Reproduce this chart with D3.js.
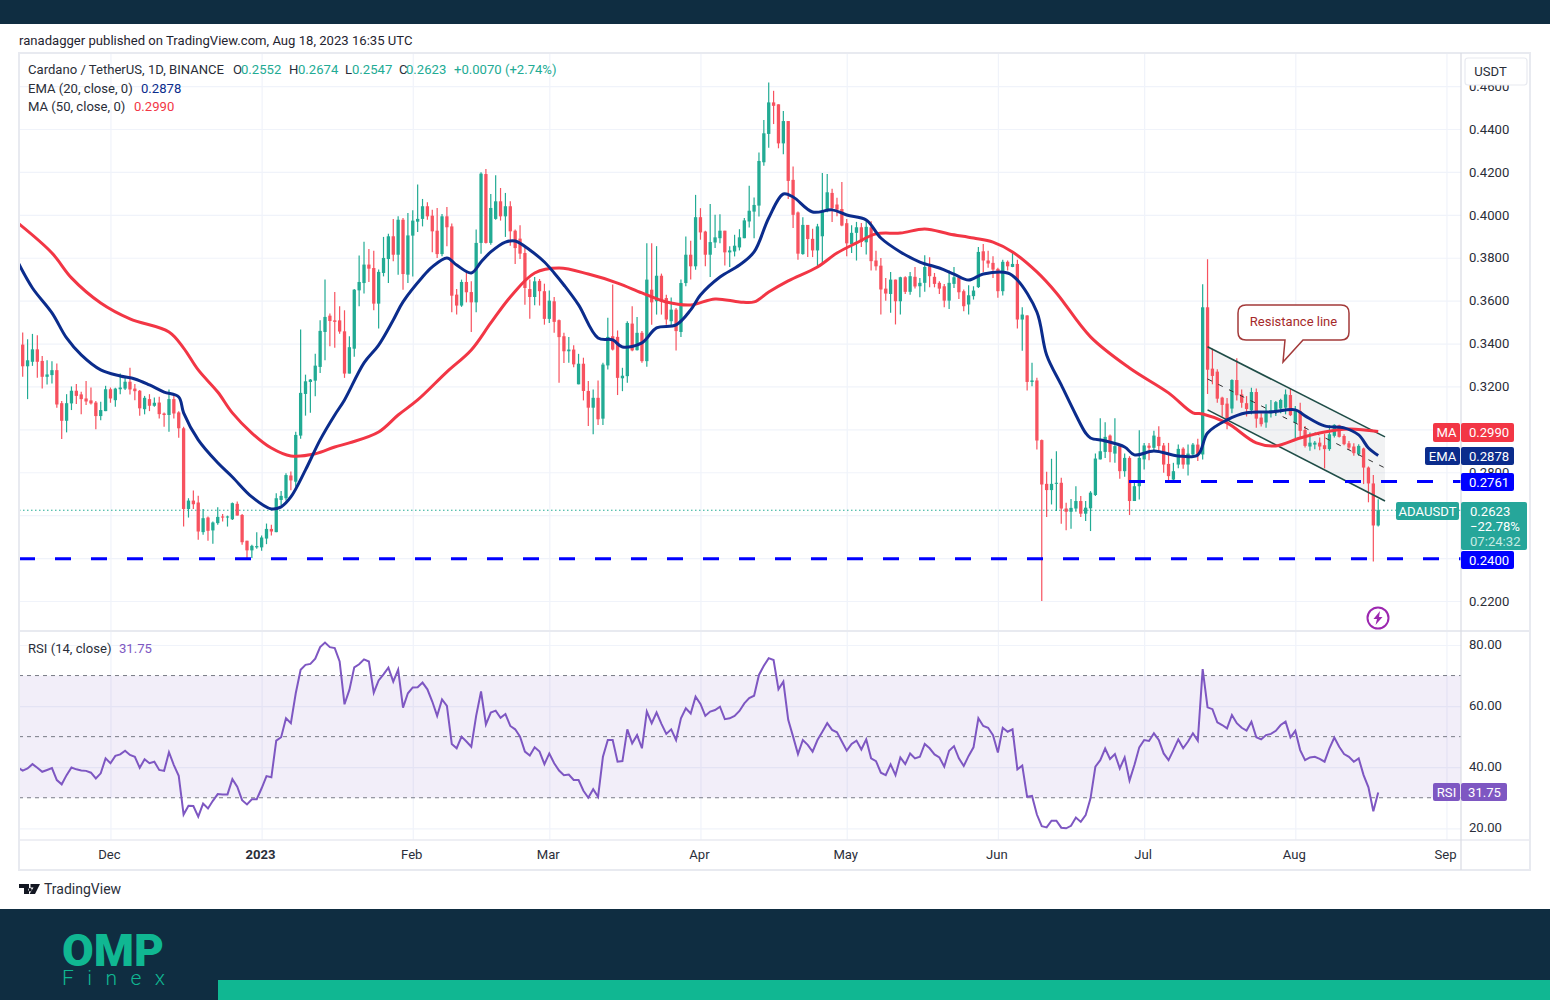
<!DOCTYPE html>
<html><head><meta charset="utf-8">
<style>html,body{margin:0;padding:0;background:#fff}svg{display:block}text{font-family:Roboto,sans-serif}</style>
<script src="https://cdn.jsdelivr.net/npm/d3@7/dist/d3.min.js"></script>
</head><body><svg id="c" width="1550" height="1000"></svg>
<script>
const opens=[.3395,.3294,.3315,.3373,.3319,.3245,.3253,.3276,.3122,.3040,
.3121,.3180,.3163,.3144,.3135,.3125,.3062,.3085,.3187,.3136,
.3187,.3190,.3222,.3190,.3180,.3094,.3141,.3110,.3125,.3074,
.3067,.3141,.3079,.3005,.2629,.2668,.2659,.2521,.2589,.2529,
.2563,.2594,.2589,.2581,.2653,.2601,.2481,.2436,.2450,.2450,
.2491,.2536,.2521,.2671,.2679,.2785,.2756,.2971,.3165,.3221,
.3227,.3291,.3454,.3530,.3508,.3508,.3457,.3260,.3376,.3648,
.3682,.3768,.3752,.3586,.3729,.3794,.3900,.3814,.3977,.3721,
.3903,.3968,.3981,.4040,.3996,.3926,.3817,.3993,.3946,.3628,
.3577,.3687,.3640,.3592,.3869,.4190,.3869,.3981,.4063,.3993,
.4040,.3926,.3889,.3822,.3654,.3617,.3692,.3644,.3515,.3597,
.3509,.3434,.3364,.3372,.3210,.3306,.3179,.3101,.3147,.3050,
.3298,.3434,.3431,.3238,.3248,.3493,.3369,.3450,.3318,.3651,
.3597,.3716,.3612,.3504,.3558,.3454,.3682,.3814,.3760,.3989,
.3922,.3814,.3871,.3891,.3926,.3825,.3829,.3848,.3891,.3969,
.4015,.4043,.4245,.4377,.4524,.4515,.4333,.4437,.4163,.4011,
.3817,.3953,.3888,.3834,.3900,.4017,.4102,.4048,.4027,.3961,
.3864,.3916,.3942,.3872,.3942,.3787,.3763,.3656,.3631,.3698,
.3597,.3709,.3641,.3711,.3667,.3683,.3760,.3711,.3683,.3667,
.3600,.3678,.3709,.3644,.3582,.3621,.3663,.3830,.3787,.3776,
.3748,.3644,.3781,.3757,.3771,.3512,.3531,.3221,.3228,.2950,
.2746,.2717,.2746,.2751,.2631,.2616,.2631,.2666,.2607,.2632,
.2694,.2860,.2895,.2971,.2887,.2922,.2805,.2867,.2666,.2735,
.2860,.2924,.2914,.2965,.2925,.2839,.2766,.2836,.2910,.2836,
.2883,.2929,.2883,.3569,.3283,.3269,.3148,.3120,.3097,.3230,
.3163,.3122,.3089,.3174,.3055,.3032,.3075,.3090,.3097,.3101,
.3160,.3030,.3086,.2997,.2920,.2929,.2938,.2926,.2908,.2970,
.3019,.2969,.2935,.2920,.2884,.2911,.2822,.2748,.2552];
const highs=[.3451,.3420,.3445,.3439,.3342,.3322,.3318,.3307,.3132,.3164,
.3200,.3211,.3175,.3226,.3195,.3132,.3129,.3203,.3195,.3194,
.3260,.3245,.3287,.3211,.3183,.3156,.3164,.3149,.3152,.3079,
.3186,.3156,.3085,.3012,.2679,.2715,.2691,.2629,.2594,.2571,
.2637,.2605,.2598,.2659,.2664,.2605,.2481,.2462,.2521,.2505,
.2561,.2555,.2702,.2713,.2795,.2804,.2989,.3465,.3255,.3235,
.3352,.3508,.3698,.3540,.3640,.3574,.3555,.3434,.3654,.3810,
.3875,.3841,.3833,.3745,.3897,.3912,.3981,.3993,.3985,.4009,
.4021,.4141,.4074,.4058,.4024,.4032,.4004,.4036,.3959,.3654,
.3698,.3737,.3690,.3931,.4198,.4213,.4097,.4184,.4125,.4102,
.4063,.3931,.3951,.3845,.3698,.3710,.3701,.3679,.3647,.3617,
.3512,.3450,.3431,.3392,.3352,.3334,.3225,.3186,.3228,.3310,
.3520,.3675,.3461,.3287,.3504,.3574,.3524,.3458,.3868,.3868,
.3854,.3726,.3628,.3615,.3566,.3698,.3899,.3879,.4093,.4031,
.3926,.4051,.4000,.4003,.3926,.3853,.3907,.3933,.3985,.4135,
.4081,.4290,.4442,.4617,.4578,.4515,.4484,.4437,.4225,.4016,
.3989,.3953,.3935,.3958,.4195,.4190,.4122,.4079,.4153,.3981,
.3951,.3967,.3962,.3978,.3970,.3833,.3799,.3706,.3734,.3698,
.3711,.3714,.3734,.3757,.3706,.3812,.3802,.3729,.3690,.3678,
.3740,.3757,.3714,.3652,.3672,.3667,.3850,.3864,.3833,.3807,
.3753,.3791,.3787,.3822,.3791,.3569,.3532,.3310,.3240,.2953,
.2802,.2863,.2898,.2774,.2658,.2676,.2735,.2689,.2666,.2712,
.2887,.3052,.3033,.2976,.3052,.2926,.2887,.2875,.2759,.2996,
.2937,.2937,.2994,.3014,.2937,.2937,.2844,.2929,.2917,.2929,
.2937,.2956,.3676,.3793,.3376,.3280,.3152,.3146,.3233,.3331,
.3186,.3155,.3194,.3190,.3075,.3117,.3137,.3132,.3143,.3186,
.3190,.3109,.3124,.3016,.2985,.2946,.2962,.2980,.3019,.3024,
.3021,.2977,.2946,.2935,.2931,.2915,.2827,.2787,.2674];
const lows=[.3245,.3141,.3296,.3240,.3191,.3209,.3214,.3101,.2955,.2986,
.3090,.3118,.3070,.3113,.3116,.3000,.3043,.3085,.3124,.3105,
.3164,.3183,.3163,.3136,.3063,.3070,.3085,.3105,.3051,.3012,
.2989,.3051,.2961,.2547,.2589,.2629,.2485,.2509,.2481,.2467,
.2555,.2571,.2547,.2578,.2598,.2462,.2397,.2400,.2443,.2434,
.2465,.2505,.2521,.2648,.2668,.2716,.2733,.2956,.3064,.3077,
.3154,.3263,.3322,.3387,.3380,.3446,.3240,.3260,.3338,.3574,
.3633,.3687,.3555,.3470,.3713,.3682,.3783,.3721,.3651,.3682,
.3713,.3920,.3946,.3977,.3825,.3799,.3807,.3853,.3546,.3535,
.3571,.3592,.3454,.3546,.3819,.3866,.3861,.3977,.3973,.3897,
.3856,.3771,.3794,.3581,.3515,.3578,.3577,.3488,.3496,.3450,
.3217,.3309,.3310,.3290,.3210,.3135,.3016,.2977,.3020,.3020,
.3279,.3368,.3160,.3178,.3217,.3364,.3368,.3310,.3292,.3488,
.3535,.3535,.3488,.3485,.3368,.3430,.3667,.3698,.3744,.3884,
.3760,.3710,.3845,.3868,.3764,.3757,.3806,.3834,.3891,.3941,
.3891,.3992,.4229,.4313,.4423,.4310,.4282,.4074,.3938,.3791,
.3814,.3803,.3803,.3760,.3771,.4012,.3967,.3993,.3947,.3807,
.3822,.3787,.3850,.3815,.3740,.3740,.3535,.3600,.3543,.3489,
.3535,.3631,.3628,.3656,.3616,.3641,.3662,.3662,.3631,.3569,
.3561,.3659,.3608,.3551,.3535,.3605,.3659,.3734,.3753,.3706,
.3613,.3624,.3740,.3756,.3470,.3367,.3181,.3201,.2906,.2200,
.2591,.2650,.2619,.2560,.2530,.2537,.2616,.2591,.2573,.2526,
.2689,.2860,.2867,.2847,.2844,.2770,.2779,.2601,.2666,.2673,
.2813,.2856,.2898,.2890,.2798,.2763,.2759,.2819,.2816,.2785,
.2875,.2852,.2859,.3165,.3210,.3124,.3059,.3000,.3075,.3135,
.3101,.3060,.3070,.3008,.3013,.3008,.3055,.3062,.3075,.3070,
.3062,.2960,.2959,.2915,.2900,.2907,.2903,.2818,.2900,.2962,
.2962,.2926,.2904,.2877,.2877,.2745,.2660,.2384,.2547];
const closes=[.3294,.3322,.3373,.3315,.3245,.3256,.3276,.3116,.3040,.3122,
.3180,.3156,.3141,.3130,.3121,.3062,.3090,.3187,.3144,.3190,
.3195,.3222,.3186,.3178,.3098,.3147,.3110,.3124,.3071,.3067,
.3141,.3074,.3005,.2629,.2668,.2651,.2524,.2586,.2527,.2566,
.2592,.2589,.2594,.2656,.2598,.2474,.2436,.2457,.2456,.2496,
.2536,.2524,.2679,.2690,.2787,.2762,.2974,.3170,.3224,.3232,
.3297,.3459,.3524,.3505,.3501,.3456,.3260,.3383,.3651,.3687,
.3768,.3749,.3586,.3734,.3799,.3900,.3814,.3977,.3724,.3904,
.3973,.3981,.4040,.3993,.3923,.3817,.3993,.3942,.3623,.3577,
.3687,.3639,.3592,.3869,.4192,.3869,.4032,.4063,.3993,.4040,
.3923,.3845,.3819,.3659,.3617,.3690,.3644,.3515,.3600,.3501,
.3430,.3364,.3372,.3303,.3306,.3179,.3101,.3147,.3047,.3302,
.3431,.3372,.3240,.3250,.3496,.3368,.3450,.3318,.3698,.3592,
.3716,.3594,.3512,.3558,.3458,.3682,.3814,.3760,.3989,.3918,
.3814,.3873,.3895,.3926,.3825,.3834,.3856,.3895,.3974,.4019,
.4046,.4251,.4380,.4524,.4508,.4333,.4437,.4158,.4000,.3819,
.3953,.3887,.3834,.3946,.4017,.4105,.4032,.4024,.3950,.3867,
.3916,.3942,.3874,.3944,.3784,.3760,.3652,.3633,.3698,.3597,
.3709,.3641,.3714,.3666,.3683,.3757,.3714,.3678,.3656,.3600,
.3683,.3709,.3639,.3574,.3625,.3647,.3827,.3787,.3773,.3745,
.3644,.3781,.3760,.3771,.3512,.3535,.3221,.3228,.2948,.2743,
.2717,.2746,.2751,.2631,.2616,.2634,.2666,.2607,.2635,.2705,
.2864,.2898,.2965,.2894,.2922,.2805,.2867,.2666,.2735,.2867,
.2925,.2914,.2971,.2922,.2836,.2782,.2805,.2909,.2836,.2887,
.2929,.2883,.3569,.3278,.3249,.3143,.3114,.3047,.3230,.3159,
.3124,.3095,.3174,.3050,.3024,.3075,.3090,.3127,.3137,.3163,
.3066,.3085,.2993,.2923,.2938,.2938,.2920,.2908,.2977,.3021,
.2965,.2931,.2915,.2889,.2923,.2822,.2748,.2552,.2623];
const rsiValues=[39.9,38.9,39.6,41.0,39.8,38.5,39.1,39.7,35.8,34.4,37.4,
39.9,39.3,38.9,38.8,38.2,36.3,38.0,42.9,41.3,43.7,
44.2,45.4,44.0,43.4,39.8,42.6,41.3,41.8,39.1,38.8,
44.9,40.7,37.2,24.5,27.4,27.3,23.8,28.1,26.5,29.0,
31.2,31.1,31.1,36.1,33.6,29.2,27.8,29.5,29.5,33.1,
37.1,36.7,48.7,49.8,56.0,54.4,64.2,71.9,73.5,73.8,
75.5,79.3,80.8,79.3,79.0,74.6,60.6,65.3,72.7,73.7,
75.3,74.6,64.4,68.4,70.4,72.6,68.0,71.9,59.5,64.2,
66.1,66.2,67.7,65.5,61.5,56.8,62.2,60.1,47.6,46.2,
50.0,48.4,46.7,56.8,64.8,54.0,57.9,58.5,56.2,57.4,
53.5,52.4,50.0,45.1,43.8,46.5,45.1,41.0,44.5,41.3,
38.9,37.4,37.6,35.8,35.8,32.3,30.0,32.8,30.3,43.4,
48.9,48.9,41.8,42.0,52.4,47.8,50.5,46.2,58.2,54.4,
57.9,54.2,50.9,52.4,48.9,56.0,59.3,57.6,63.1,60.7,
56.8,58.2,58.7,59.8,55.7,56.0,56.8,58.4,60.9,62.6,
63.4,70.2,73.2,75.7,75.1,65.5,68.0,55.5,50.0,44.3,
48.9,47.3,45.1,48.9,51.6,54.4,52.2,51.4,48.4,45.4,
47.6,48.7,45.8,49.1,42.9,42.0,38.2,37.4,40.9,37.4,
43.2,41.0,44.5,42.9,43.4,47.6,46.2,44.2,43.2,40.2,
45.4,46.9,42.9,40.4,43.7,46.5,56.0,53.5,52.9,50.5,
44.8,52.9,51.6,52.4,39.3,40.5,30.3,30.6,24.5,20.7,
20.3,22.5,22.5,20.2,20.0,20.8,23.5,22.1,24.3,29.8,
40.2,42.3,46.1,42.7,44.3,39.6,43.2,35.6,40.7,46.5,
48.9,48.6,51.1,48.9,44.5,42.3,45.6,49.1,46.2,48.4,
51.1,48.7,72.1,59.6,59.0,54.7,53.8,52.7,57.1,54.4,
52.9,52.0,54.9,49.8,49.1,50.5,50.9,51.9,53.8,54.9,
49.8,51.9,45.6,42.3,43.2,43.4,42.7,41.8,46.2,49.7,
46.7,44.3,43.4,41.8,42.9,37.4,33.4,25.6,31.75];
const emaDays=[-1,2,6,9,12,16,20,23,26,29,32,33,36,40,43,47,51,53,55,58,61,64,66,70,73,76,78,82,84,87,89,92,94,96,99,101,104,107,109,111,114,118,121,123,127,130,134,137,139,143,147,150,153,156,158,162,166,169,173,176,180,184,188,191,194,197,202,204,208,210,213,216,218,219,222,226,228,232,237,241,243,247,251,256,261,263,267,271,274,276,278];
const emaValues=[.3780,.3659,.3543,.3426,.3347,.3277,.3249,.3235,.3207,.3174,.3151,.3077,.2951,.2844,.2778,.2685,.2629,.2639,.2685,.2811,.2951,.3067,.3137,.3310,.3393,.3510,.3594,.3710,.3757,.3799,.3766,.3729,.3780,.3827,.3873,.3878,.3836,.3780,.3729,.3673,.3580,.3426,.3417,.3384,.3403,.3473,.3487,.3557,.3626,.3710,.3766,.3827,.3985,.4097,.4083,.4013,.4023,.3999,.3976,.3892,.3827,.3780,.3752,.3724,.3696,.3724,.3729,.3696,.3547,.3347,.3207,.3067,.2983,.2960,.2946,.2918,.2881,.2899,.2876,.2881,.2983,.3044,.3077,.3081,.3091,.3063,.3016,.3007,.2974,.2913,.2878];
const maDays=[-1,6,10,16,22,30,33,36,40,43,47,51,55,60,64,67,73,77,81,87,92,96,100,105,110,116,122,127,132,137,142,147,150,153,157,163,167,171,175,180,185,190,195,199,203,208,212,219,227,235,240,242,247,253,257,262,267,272,278];
const maValues=[.3962,.3822,.3706,.3589,.3515,.3454,.3379,.3277,.3174,.3077,.2983,.2913,.2876,.2886,.2918,.2937,.2988,.3067,.3137,.3268,.3370,.3496,.3617,.3729,.3752,.3724,.3682,.3636,.3594,.3580,.3608,.3594,.3594,.3640,.3692,.3757,.3822,.3869,.3911,.3915,.3934,.3911,.3892,.3873,.3827,.3734,.3636,.3431,.3286,.3170,.3077,.3072,.3030,.2937,.2923,.2960,.2988,.3002,.2990];
const priceTicks=[.22,.24,.26,.28,.30,.32,.34,.36,.38,.40,.42,.44,.46];
const rsiTicks=[20,40,60,80];
const rsiLevels=[70,50,30];
const monthDates=["2022-12-01","2023-01-01","2023-02-01","2023-03-01","2023-04-01","2023-05-01","2023-06-01","2023-07-01","2023-08-01","2023-09-01"];
const monthLabels=["Dec","2023","Feb","Mar","Apr","May","Jun","Jul","Aug","Sep"];
const channelUpper=[.3385,.2965];
const channelMiddle=[.3235,.2820];
const channelLower=[.3091,.2666];
const channelDays=[243,279.4];
const levels=[.24,.2761];

const C={up:"#22AB94",down:"#F7525F",navy:"#0B2C8C",ma:"#F23645",purple:"#7E57C2",grid:"#F0F3FA",blue:"#0000FF",dark:"#0F2D41",brand:"#10B792",txt:"#2A2E39",edge:"#E8EAF0"};
const FS=13.1;
const L=19,R=1461,Tp=53,Bp=631,Bt=840,Bo=870,Rr=1530;
const svg=d3.select("#c");
const start=new Date(Date.UTC(2022,10,13)), end=new Date(Date.UTC(2023,7,18));
const x=d3.scaleUtc().domain([start,end]).range([22.7,1378.2]);
const X=i=>x(new Date(start.getTime()+i*864e5));
const y=d3.scaleLinear().domain([.22,.44]).range([601,129]);
const yr=d3.scaleLinear().domain([20,80]).range([828.3,645]);
const months=monthDates.map(d=>new Date(d+"T00:00:00Z"));

// frame backgrounds
svg.append("rect").attr("width",1550).attr("height",24).attr("fill",C.dark);
svg.append("text").attr("x",19).attr("y",44.5).attr("font-size",FS).attr("fill","#1f2430").text("ranadagger published on TradingView.com, Aug 18, 2023 16:35 UTC");

// grids
const gy=svg.append("g").attr("transform",`translate(${L},0)`).call(d3.axisRight(y).tickValues(priceTicks).tickSize(R-L).tickFormat(""));
const gr=svg.append("g").attr("transform",`translate(${L},0)`).call(d3.axisRight(yr).tickValues(rsiTicks).tickSize(R-L).tickFormat(""));
const gx=svg.append("g").attr("transform",`translate(0,${Bt})`).call(d3.axisTop(x).tickValues(months).tickSize(Bt-Tp).tickFormat(""));
[gy,gr,gx].forEach(g=>{g.select(".domain").remove();g.selectAll("line").attr("stroke",C.grid).attr("stroke-width",1.2)});

const defs=svg.append("defs");
defs.append("clipPath").attr("id","cp").append("rect").attr("x",L).attr("y",Tp).attr("width",R-L).attr("height",Bp-Tp);
defs.append("clipPath").attr("id","cr").append("rect").attr("x",L).attr("y",Bp).attr("width",R-L).attr("height",Bt-Bp);

const price=svg.append("g").attr("clip-path","url(#cp)");

// last price dotted line
price.append("line").attr("x1",L).attr("x2",R).attr("y1",y(closes[278])).attr("y2",y(closes[278])).attr("stroke",C.up).attr("stroke-dasharray","1.5 2.5").attr("stroke-width",1);

// channel fill
const chanX=channelDays.map(X);
price.append("path").attr("d",d3.line()([[chanX[0],y(channelUpper[0])],[chanX[1],y(channelUpper[1])],[chanX[1],y(channelLower[1])],[chanX[0],y(channelLower[0])]])+"Z").attr("fill","#787B86").attr("fill-opacity",.1);

// candles
const data=d3.range(opens.length).map(i=>({i,o:opens[i],h:highs[i],l:lows[i],c:closes[i]}));
const g=price.append("g");
g.selectAll("line").data(data).join("line").attr("x1",d=>X(d.i)).attr("x2",d=>X(d.i)).attr("y1",d=>y(d.h)).attr("y2",d=>y(d.l))
 .attr("stroke",d=>d.c>=d.o?C.up:C.down).attr("stroke-width",1.2);
g.selectAll("rect").data(data).join("rect").attr("x",d=>X(d.i)-1.65).attr("width",3.3)
 .attr("y",d=>y(Math.max(d.o,d.c))).attr("height",d=>Math.max(1,Math.abs(y(d.o)-y(d.c))))
 .attr("fill",d=>d.c>=d.o?C.up:C.down);

// channel lines
[[channelUpper,"#1F4D47",1.6,null],[channelLower,"#1F4D47",1.6,null],[channelMiddle,"#333",1,"5 7"]].forEach(([v,col,w,da])=>{
 price.append("line").attr("x1",chanX[0]).attr("x2",chanX[1]).attr("y1",y(v[0])).attr("y2",y(v[1])).attr("stroke",col).attr("stroke-width",w).attr("stroke-dasharray",da);
});

// moving averages
const ln=d3.line().x(d=>X(d[0])).y(d=>y(d[1])).curve(d3.curveCatmullRom.alpha(.5));
price.append("path").attr("d",ln(maDays.map((d,i)=>[d,maValues[i]]))).attr("fill","none").attr("stroke",C.ma).attr("stroke-width",3);
price.append("path").attr("d",ln(emaDays.map((d,i)=>[d,emaValues[i]]))).attr("fill","none").attr("stroke",C.navy).attr("stroke-width",3);

// horizontal levels
price.append("line").attr("x1",L).attr("x2",R).attr("y1",y(levels[0])+.6).attr("y2",y(levels[0])+.6).attr("stroke",C.blue).attr("stroke-width",3).attr("stroke-dasharray","16 20");
price.append("line").attr("x1",1129).attr("x2",R).attr("y1",y(levels[1])+.8).attr("y2",y(levels[1])+.8).attr("stroke",C.blue).attr("stroke-width",3).attr("stroke-dasharray","16 20");

// callout
svg.append("path").attr("d","M1246 305H1341Q1349 305 1349 313V332Q1349 340 1341 340H1303L1283 362L1285 340H1246Q1238 340 1238 332V313Q1238 305 1246 305Z").attr("fill","#fff").attr("stroke","#A33A3A").attr("stroke-width",1.5);
svg.append("text").attr("x",1293.5).attr("y",326).attr("text-anchor","middle").attr("font-size",13).attr("fill","#A52A2A").text("Resistance line");

// lightning icon
svg.append("circle").attr("cx",1378).attr("cy",618).attr("r",10.5).attr("fill","#fff").attr("stroke","#9C27B0").attr("stroke-width",2);
svg.append("path").attr("d","M1380 611L1373.5 619H1377L1375.5 625L1382.5 617H1379Z").attr("fill","#9C27B0");

// RSI pane (first reading sits one day before the first candle)
const rsiG=svg.append("g").attr("clip-path","url(#cr)");
rsiG.append("rect").attr("x",L).attr("width",R-L).attr("y",yr(70)).attr("height",yr(30)-yr(70)).attr("fill",C.purple).attr("fill-opacity",.1);
rsiLevels.forEach(v=>rsiG.append("line").attr("x1",L).attr("x2",R).attr("y1",yr(v)).attr("y2",yr(v)).attr("stroke","#787B86").attr("stroke-dasharray","4 4").attr("stroke-width",1));
rsiG.append("path").attr("d",d3.line().x((d,i)=>X(i-1)).y(d=>yr(d))(rsiValues)).attr("fill","none").attr("stroke",C.purple).attr("stroke-width",2);

// frame lines
const frame=svg.append("g").attr("stroke",C.edge).attr("stroke-width",2).attr("fill","none");
frame.append("rect").attr("x",L).attr("y",Tp).attr("width",Rr-L).attr("height",Bo-Tp);
frame.append("line").attr("x1",L).attr("x2",Rr).attr("y1",Bp).attr("y2",Bp);
frame.append("line").attr("x1",L).attr("x2",Rr).attr("y1",Bt).attr("y2",Bt).attr("stroke-width",1.5);
frame.append("line").attr("x1",R).attr("x2",R).attr("y1",Tp).attr("y2",Bo).attr("stroke-width",1.2).attr("stroke","#D9DBE3");

// axes
const st=(g,fs)=>{g.select(".domain").remove();g.selectAll("text").attr("font-size",fs).attr("fill",C.txt);};
const ay=svg.append("g").attr("transform",`translate(${R},0)`).call(d3.axisRight(y).tickValues(priceTicks).tickSize(0).tickPadding(8).tickFormat(d3.format(".4f")));st(ay,FS);
const ar=svg.append("g").attr("transform",`translate(${R},-1)`).call(d3.axisRight(yr).tickValues(rsiTicks).tickSize(0).tickPadding(8).tickFormat(d3.format(".2f")));st(ar,FS);
const ax=svg.append("g").attr("transform",`translate(-1.5,${Bt+5})`).call(d3.axisBottom(x).tickValues(months).tickSize(0).tickPadding(5).tickFormat((d,i)=>monthLabels[i]));st(ax,FS);
ax.selectAll("text").filter((d,i)=>monthLabels[i]==="2023").attr("font-weight",700);

// USDT button
svg.append("rect").attr("x",1465).attr("y",58).attr("width",62).attr("height",27).attr("rx",3).attr("fill","#fff").attr("stroke","#E8EAF0").attr("stroke-width",1.2);
svg.append("text").attr("x",1490.5).attr("y",76).attr("text-anchor","middle").attr("font-size",FS).attr("fill",C.txt).text("USDT");

// legend
const t=(xx,yy,s,col,fs=FS,anchor="start",w=400)=>svg.append("text").attr("x",xx).attr("y",yy).attr("fill",col).attr("font-size",fs).attr("text-anchor",anchor).attr("font-weight",w).text(s);
t(28,74,"Cardano / TetherUS, 1D, BINANCE",C.txt);
[["O",233,"0.2552",241],["H",289,"0.2674",298],["L",345,"0.2547",352],["C",399,"0.2623",406]].forEach(a=>{t(a[1],74,a[0],C.txt);t(a[3],74,a[2],C.up)});
t(454,74,"+0.0070 (+2.74%)",C.up);
t(28,92.5,"EMA (20, close, 0)",C.txt);t(141,92.5,"0.2878",C.navy);
t(28,111,"MA (50, close, 0)",C.txt);t(134,111,"0.2990",C.ma);
t(28,653,"RSI (14, close)",C.txt);t(119,653,"31.75",C.purple);

// price tags
const tag=(x0,x1,y0,y1,col)=>svg.append("rect").attr("x",x0).attr("y",y0).attr("width",x1-x0).attr("height",y1-y0).attr("rx",2).attr("fill",col);
tag(1433,1460,423,442,C.ma);tag(1461,1514,423,442,C.ma);
t(1446.5,437,"MA","#fff",FS,"middle");t(1489,437,"0.2990","#fff",FS,"middle");
tag(1425,1460,447,465,C.navy);tag(1461,1514,447,465,C.navy);
t(1442.5,460.5,"EMA","#fff",FS,"middle");t(1489,460.5,"0.2878","#fff",FS,"middle");
tag(1461,1514,473,491,C.blue);t(1489,486.5,"0.2761","#fff",FS,"middle");
tag(1396,1459,502,520,"#26A69A");t(1427.5,515.5,"ADAUSDT","#fff",FS,"middle");
tag(1461,1527,502,550,"#26A69A");
t(1470,515.5,"0.2623","#fff",FS);t(1470,530.5,"\u221222.78%","#fff",FS);t(1470,545.5,"07:24:32","#C8EBE4",FS);
tag(1461,1514,551,569,C.blue);t(1489,565,"0.2400","#fff",FS,"middle");
tag(1433,1460,783,801,C.purple);tag(1461,1507,783,801,C.purple);
t(1446.5,796.5,"RSI","#fff",FS,"middle");t(1484.5,796.5,"31.75","#fff",FS,"middle");

// TradingView mark
svg.append("path").attr("d","M19 884H29V894H24V888H19ZM30.5 884H40L35 894H29.5L33.5 887.5H30.5Z M30 888A1.7 1.7 0 1 0 30.01 888").attr("fill","#131722");
t(44,894,"TradingView","#2A2E39",14);

// footer
svg.append("rect").attr("y",909).attr("width",1550).attr("height",91).attr("fill",C.dark);
svg.append("rect").attr("x",218).attr("y",980).attr("width",1332).attr("height",20).attr("fill",C.brand);
svg.append("text").attr("x",62).attr("y",966).attr("font-size",44).attr("font-weight",900).attr("fill",C.brand).attr("font-family","Lato").attr("textLength",102).attr("lengthAdjust","spacingAndGlyphs").text("OMP");
svg.append("text").attr("x",62).attr("y",985).attr("font-size",21).attr("font-weight",300).attr("fill",C.brand).attr("font-family","Lato").attr("textLength",103).text("Finex");
</script></body></html>
